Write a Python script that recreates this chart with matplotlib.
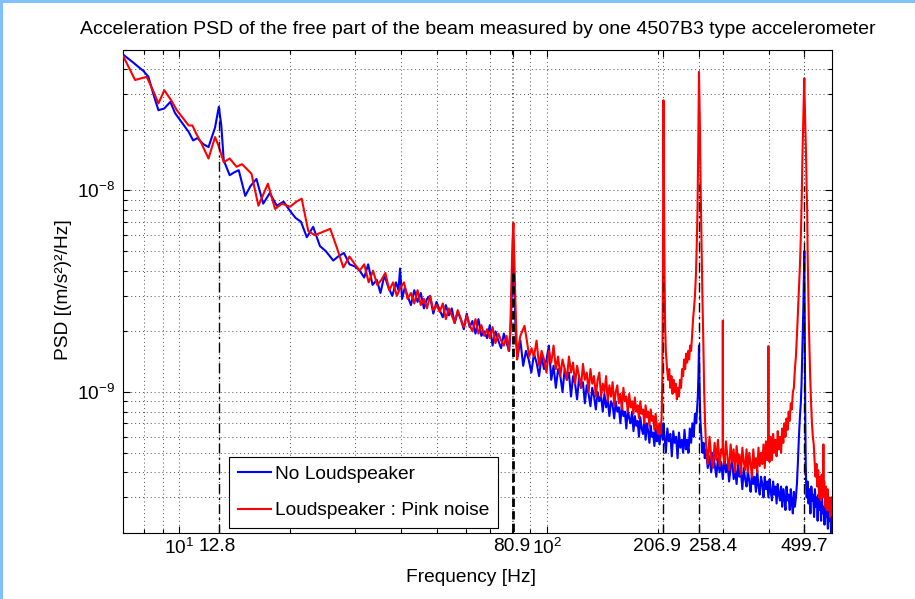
import numpy as np
import matplotlib
matplotlib.use("Agg")
import matplotlib.pyplot as plt
from matplotlib.ticker import FixedLocator, LogLocator, NullFormatter, FixedFormatter
from matplotlib.patches import Rectangle
from matplotlib.transforms import blended_transform_factory, ScaledTranslation

plt.rcParams['font.family'] = ['Liberation Sans', 'DejaVu Sans']
plt.rcParams['mathtext.fontset'] = 'custom'
plt.rcParams['mathtext.rm'] = 'Liberation Sans'
plt.rcParams['mathtext.it'] = 'Liberation Sans:italic'
plt.rcParams['mathtext.bf'] = 'Liberation Sans:bold'

UNIT = 1e-9  # PSD values below are in 1e-9 (m/s^2)^2/Hz

# ---------------- No Loudspeaker (blue) ----------------
f_blue_low = [7.05, 7.5, 8.0, 8.24, 8.5, 8.77, 9.1, 9.45, 9.73, 10.2,
              10.6, 10.9, 11.2, 11.6, 12.0, 12.5, 12.8, 13.0, 13.2, 13.7,
              14.1, 14.5, 15.1, 15.6, 16.2, 16.9, 17.6, 18.4, 19.2, 20.0,
              20.7, 21.4, 22.2, 23.1, 24.1, 25.0, 26.2, 27.0, 28.0, 29.0,
              30.0, 30.9]
p_blue_low = [47, 43, 39, 36.6, 30, 25, 25.5, 27.5, 24.2, 21.5,
              19.5, 17.7, 18.2, 17.0, 16.4, 20.5, 26.0, 21, 14.1, 11.9,
              12.3, 12.6, 9.4, 10.5, 11.4, 8.6, 9.7, 8.4, 8.8, 7.9,
              7.3, 7.0, 5.86, 6.6, 5.3, 5.0, 4.49, 4.7, 4.9, 4.3,
              4.2, 4.0]

f_blue_mid = [31.8, 32.6, 33.5, 34.4, 35.2, 36.1, 37.0, 37.9, 38.8, 39.4,
              39.8, 40.3, 41.0, 41.7, 42.6, 43.5, 44.4, 45.3, 46.2, 47.1,
              48.0, 49.0, 50.0, 51.0, 52.0, 53.0, 54.0, 55.0, 56.0, 57.1,
              58.2, 59.3, 60.4, 61.5, 62.6, 63.8, 65.0, 66.2, 67.4, 68.6,
              69.8, 71.0, 72.3, 73.6, 74.9, 76.2, 77.5, 78.8, 79.6, 80.3,
              80.9, 81.5, 82.2]
p_blue_mid = [3.7, 4.3, 3.4, 3.6, 3.1, 3.8, 3.3, 3.0, 3.5, 3.2,
              4.1, 2.9, 3.3, 3.0, 2.7, 3.2, 2.8, 3.1, 2.6, 2.9,
              3.0, 2.45, 2.8, 2.55, 2.35, 2.7, 2.4, 2.6, 2.2, 2.5,
              2.3, 2.05, 2.45, 2.1, 2.25, 1.95, 2.3, 1.9, 2.0, 1.85,
              2.15, 1.7, 2.0, 1.8, 1.65, 1.95, 1.75, 1.6, 2.2, 3.6,
              5.2, 3.0, 1.8]

f_blue_100 = [83.0, 84.5, 86.0, 87.5, 89.0, 90.5, 92.0, 93.5, 95.0, 96.5,
              98.0, 99.5, 101.0, 102.5, 104.0, 105.5, 107.0, 108.5, 110.0, 111.5,
              113.0, 114.5, 116.0, 117.5, 119.0, 120.5, 122.0, 123.5, 125.0, 126.5,
              128.0, 129.5, 131.0, 132.5, 134.0, 135.5, 137.0, 138.5, 140.0, 141.5,
              143.0, 144.5, 146.0, 147.5, 149.0, 150.5, 152.0, 153.5, 155.0, 156.5,
              158.0, 159.5, 161.0, 162.5, 164.0, 165.5, 167.0, 168.5, 170.0, 171.5,
              173.0, 174.5, 176.0, 177.5, 179.0, 180.5, 182.0, 183.5, 185.0, 186.5,
              188.0, 189.5, 191.0, 192.5, 194.0, 195.5, 197.0, 198.5, 200.0]
p_blue_100 = [1.5, 1.8, 1.35, 1.6, 1.45, 1.25, 1.55, 1.4, 1.2, 1.5,
              1.3, 1.45, 1.7, 1.15, 1.35, 1.05, 1.3, 1.2, 1.0, 1.3,
              1.15, 1.25, 0.95, 1.2, 1.1, 0.92, 1.18, 1.05, 1.12, 0.88,
              1.08, 0.98, 0.85, 1.05, 0.95, 0.82, 1.0, 0.9, 0.96, 0.8,
              0.98, 0.84, 0.92, 0.76, 0.9, 0.86, 0.74, 0.9, 0.8, 0.84,
              0.7, 0.86, 0.76, 0.8, 0.66, 0.82, 0.74, 0.7, 0.8, 0.64,
              0.76, 0.68, 0.72, 0.6, 0.75, 0.66, 0.62, 0.72, 0.58, 0.7,
              0.64, 0.56, 0.68, 0.6, 0.63, 0.54, 0.66, 0.57, 0.62]

f_blue_200 = [202, 204, 206, 206.9, 208, 210, 212, 214, 216, 218,
              220, 222, 224, 226, 228, 230, 232, 234, 236, 238,
              240, 242, 244, 246, 248, 250, 252, 254, 255.5, 256.5,
              257.5, 258.4, 259.3, 260.5, 262, 264, 266, 268]
p_blue_200 = [0.55, 0.68, 0.58, 0.7, 0.62, 0.5, 0.66, 0.57, 0.62, 0.48,
              0.64, 0.56, 0.6, 0.47, 0.63, 0.53, 0.58, 0.5, 0.65, 0.52,
              0.58, 0.5, 0.66, 0.56, 0.7, 0.6, 0.78, 0.7, 0.85, 0.95,
              1.2, 1.7, 1.1, 0.75, 0.62, 0.5, 0.56, 0.47]

f_blue_300 = [270, 273, 276, 279, 282, 285, 288, 291, 294, 297,
              300, 303, 306, 309, 312, 315, 318, 321, 324, 327,
              330, 333, 336, 339, 342, 345, 348, 351, 354, 357,
              360, 363, 366, 369, 372, 375, 378, 381, 384, 387,
              390, 393, 396, 399, 402, 405, 408, 411, 414, 417,
              420, 423, 426, 429, 432, 435, 438, 441, 444, 447,
              450, 453, 456, 459, 462, 465, 468, 471, 474, 477,
              480, 483, 486, 489]
p_blue_300 = [0.52, 0.42, 0.48, 0.4, 0.5, 0.44, 0.38, 0.47, 0.4, 0.45,
              0.37, 0.48, 0.4, 0.44, 0.36, 0.42, 0.46, 0.37, 0.41, 0.35,
              0.44, 0.38, 0.4, 0.33, 0.42, 0.37, 0.34, 0.41, 0.36, 0.32,
              0.4, 0.35, 0.38, 0.32, 0.41, 0.34, 0.31, 0.38, 0.35, 0.3,
              0.38, 0.33, 0.36, 0.3, 0.37, 0.32, 0.29, 0.36, 0.31, 0.34,
              0.28, 0.35, 0.31, 0.29, 0.34, 0.27, 0.33, 0.3, 0.26, 0.34,
              0.29, 0.31, 0.26, 0.33, 0.28, 0.25, 0.32, 0.27, 0.3, 0.35,
              0.45, 0.6, 0.75, 0.9]

f_blue_500 = [491, 493, 495, 496.5, 497.5, 498.5, 499.7, 500.6, 501.5, 502.5,
              504, 505.5, 507, 510, 513, 516, 519, 522, 525, 528,
              531, 534, 537, 540, 543, 546, 549, 552, 555, 558,
              561, 564, 567, 570, 573, 576, 579, 582, 585, 588,
              591, 594]
p_blue_500 = [1.1, 1.5, 2.0, 2.6, 3.2, 4.0, 5.0, 3.0, 1.5, 0.8,
              0.45, 0.34, 0.3, 0.36, 0.28, 0.33, 0.25, 0.34, 0.29, 0.31,
              0.24, 0.33, 0.27, 0.3, 0.23, 0.31, 0.26, 0.29, 0.23, 0.3,
              0.25, 0.27, 0.22, 0.29, 0.24, 0.26, 0.21, 0.27, 0.23, 0.25,
              0.2, 0.24]

# ---------------- Loudspeaker : Pink noise (red) ----------------
f_red_low = [7.05, 7.58, 8.15, 8.5, 8.77, 9.1, 9.5, 9.84, 10.2, 10.6,
             10.85, 11.1, 11.5, 12.0, 12.5, 12.8, 13.2, 13.7, 14.3, 14.8,
             15.7, 16.4, 17.4, 18.2, 19.0, 20.0, 20.8, 21.5, 22.4, 23.3,
             24.4, 25.7, 26.8, 27.9, 29.0, 30.0, 30.9]
p_red_low = [46, 35.3, 36.6, 31, 27, 31.4, 28, 25, 23, 21,
             21, 19.2, 17, 14.4, 18.4, 16.5, 13.8, 14.4, 13.1, 13.5,
             12.1, 8.4, 10.8, 8.1, 8.6, 8.3, 8.8, 9.1, 6.3, 6.0,
             6.2, 6.45, 5.2, 4.15, 4.7, 4.3, 4.0]

f_red_mid = [31.8, 32.7, 33.6, 34.5, 35.4, 36.3, 37.2, 38.1, 39.0, 39.9,
             40.8, 41.7, 42.6, 43.5, 44.4, 45.3, 46.2, 47.1, 48.0, 49.0,
             50.0, 51.0, 52.0, 53.0, 54.0, 55.0, 56.0, 57.1, 58.2, 59.3,
             60.4, 61.5, 62.6, 63.8, 65.0, 66.2, 67.4, 68.6, 69.8, 71.0,
             72.3, 73.6, 74.9, 76.2, 77.5, 78.5, 79.3, 79.9, 80.4, 80.9,
             81.4, 82.0, 82.8, 83.6, 84.5, 85.5, 86.7, 88.0, 89.3, 90.6]
p_red_mid = [4.3, 3.5, 4.0, 3.4, 3.6, 3.9, 3.2, 3.5, 3.0, 3.3,
             3.5, 2.9, 3.1, 2.75, 3.2, 2.7, 2.9, 2.6, 3.0, 2.55,
             2.7, 2.5, 2.75, 2.3, 2.6, 2.4, 2.2, 2.55, 2.3, 2.1,
             2.4, 2.15, 2.0, 2.3, 1.95, 2.15, 1.9, 2.05, 1.85, 2.1,
             1.75, 1.95, 1.8, 1.7, 1.9, 1.6, 2.0, 3.5, 5.5, 6.9,
             4.5, 2.6, 1.45, 1.7, 1.9, 2.0, 2.13, 1.8, 1.5, 1.65]

f_red_100 = [92.0, 93.5, 95.0, 96.5, 98.0, 99.5, 101.0, 102.5, 104.0, 105.5,
             107.0, 108.5, 110.0, 111.5, 113.0, 114.5, 116.0, 117.5, 119.0, 120.5,
             122.0, 123.5, 125.0, 126.5, 128.0, 129.5, 131.0, 132.5, 134.0, 135.5,
             137.0, 138.5, 140.0, 141.5, 143.0, 144.5, 146.0, 147.5, 149.0, 150.5,
             152.0, 153.5, 155.0, 156.5, 158.0, 159.5, 161.0, 162.5, 164.0, 165.5,
             167.0, 168.5, 170.0, 171.5, 173.0, 174.5, 176.0, 177.5, 179.0, 180.5,
             182.0, 183.5, 185.0, 186.5, 188.0, 189.5, 191.0, 192.5, 194.0, 195.5,
             197.0, 198.5, 200.0]
p_red_100 = [1.5, 1.8, 1.35, 1.6, 1.45, 1.25, 1.6, 1.4, 1.7, 1.3,
             1.5, 1.2, 1.45, 1.3, 1.15, 1.5, 1.25, 1.4, 1.1, 1.35,
             1.2, 1.05, 1.38, 1.15, 1.25, 1.0, 1.3, 1.1, 1.2, 0.95,
             1.15, 1.25, 0.95, 1.1, 1.0, 1.2, 0.9, 1.08, 0.95, 1.12,
             0.86, 1.0, 1.08, 0.88, 0.98, 0.82, 1.05, 0.9, 0.95, 0.8,
             0.98, 0.84, 0.9, 0.78, 0.94, 0.8, 0.86, 0.74, 0.9, 0.78,
             0.82, 0.7, 0.86, 0.75, 0.8, 0.68, 0.82, 0.72, 0.76, 0.65,
             0.78, 0.68, 0.62]

f_red_200 = [201.5, 203, 204.5, 205.5, 206.2, 206.9, 207.5, 208.3, 209, 210,
             211.5, 213, 214.5, 216, 217.5, 219, 220.5, 222, 223.5, 225,
             226.5, 228, 229.5, 231, 232.5, 234, 235.5, 237, 238.5, 240,
             241.5, 243, 244.5, 246, 247.5, 249, 250.5, 252, 253.5, 255,
             256, 257, 257.8, 258.4, 259, 260, 261, 262.5, 264, 265.5,
             267, 268.5]
p_red_200 = [0.7, 0.62, 0.75, 1.2, 4.0, 28, 12, 3.87, 2.2, 1.6,
             1.32, 1.15, 1.3, 1.05, 1.2, 0.98, 1.15, 1.0, 1.1, 0.92,
             1.05, 0.95, 1.15, 1.05, 1.3, 1.2, 1.45, 1.3, 1.55, 1.4,
             1.6, 1.45, 1.7, 1.6, 1.9, 2.3, 2.6, 3.0, 3.8, 5.6,
             8.0, 14, 25, 38.7, 30, 20, 11, 5.5, 3.0, 1.8,
             1.0, 0.7]

f_red_300 = [270, 273, 276, 279, 282, 285, 288, 291, 294, 297,
             299.6, 300.0, 300.4, 303, 306, 309, 312, 315, 318, 321,
             324, 327, 330, 333, 336, 339, 342, 345, 348, 351,
             354, 357, 360, 363, 366, 369, 372, 375, 378, 381,
             384, 387, 390, 393, 396, 398.6, 399.0, 399.4, 402, 405,
             408, 411, 414, 417, 420, 423, 426, 429, 432, 435,
             438, 441, 444, 447, 450, 453, 456, 459, 462, 465,
             468, 471, 474, 477, 480, 483, 486, 489]
p_red_300 = [0.55, 0.44, 0.6, 0.48, 0.42, 0.56, 0.46, 0.58, 0.43, 0.52,
             0.5, 2.26, 0.5, 0.44, 0.57, 0.47, 0.41, 0.55, 0.45, 0.52,
             0.4, 0.54, 0.44, 0.49, 0.39, 0.53, 0.45, 0.41, 0.52, 0.4,
             0.5, 0.44, 0.38, 0.52, 0.42, 0.47, 0.4, 0.53, 0.43, 0.5,
             0.44, 0.55, 0.42, 0.57, 0.46, 0.5, 1.69, 0.5, 0.45, 0.6,
             0.46, 0.62, 0.5, 0.58, 0.48, 0.64, 0.52, 0.6, 0.5, 0.66,
             0.56, 0.7, 0.6, 0.74, 0.65, 0.8, 0.72, 0.88, 0.82, 1.0,
             1.05, 1.3, 1.5, 1.9, 2.5, 3.2, 4.2, 6.0]

f_red_500 = [491.5, 493.5, 495, 496.5, 497.5, 498.5, 499.2, 499.7, 500.4, 501.5,
             503, 505, 507, 508.5, 510, 512, 514, 516, 518, 521,
             524, 527, 530, 533, 536, 539, 542, 545, 548, 551,
             554, 557, 560, 562.6, 563, 563.4, 566, 569, 572, 575,
             578, 581, 584, 587, 590, 593]
p_red_500 = [9, 14, 18, 24, 28, 32, 35, 36, 30, 25,
             20, 15, 10, 8.2, 5.0, 3.2, 2.2, 1.6, 1.23, 0.9,
             0.7, 0.6, 0.55, 0.45, 0.38, 0.44, 0.34, 0.41, 0.3, 0.38,
             0.29, 0.39, 0.3, 0.36, 0.55, 0.32, 0.36, 0.27, 0.34, 0.26,
             0.33, 0.26, 0.3, 0.24, 0.25, 0.3]

# ---------------- marked resonance frequencies ----------------
mark_freqs = [12.8, 80.9, 206.9, 258.4, 499.7]
mark_tops = [26.0, 4.1, 3.9, 10.8, 10.5]
x_tick_values = [10, 12.8, 80.9, 100, 206.9, 258.4, 499.7]
x_tick_labels = ['$10^{1}$', '12.8', '80.9', '$10^{2}$', '206.9', '258.4', '499.7']
x_label_shift_px = [0, -2, -2, 0, -7, 14, 0]
y_tick_values = [1e-9, 1e-8]
y_tick_labels = ['$10^{-9}$', '$10^{-8}$']

freq_no_ls = np.array(f_blue_low + f_blue_mid + f_blue_100 + f_blue_200 + f_blue_300 + f_blue_500)
psd_no_ls = np.array(p_blue_low + p_blue_mid + p_blue_100 + p_blue_200 + p_blue_300 + p_blue_500) * UNIT
freq_pink = np.array(f_red_low + f_red_mid + f_red_100 + f_red_200 + f_red_300 + f_red_500)
psd_pink = np.array(p_red_low + p_red_mid + p_red_100 + p_red_200 + p_red_300 + p_red_500) * UNIT

FS = 13.8
W, H = 915, 599
fig = plt.figure(figsize=(W / 100, H / 100), dpi=100)
fig.patches.append(Rectangle((0, 1 - 3.3 / H), 1, 3.3 / H, transform=fig.transFigure,
                             facecolor='#80C0FF', edgecolor='none', zorder=0))
fig.patches.append(Rectangle((0, 0), 3.3 / W, 1, transform=fig.transFigure,
                             facecolor='#80C0FF', edgecolor='none', zorder=0))

x0, x1, y0, y1 = 123.3, 831.7, 49.5, 533.0
ax = fig.add_axes([x0 / W, 1 - y1 / H, (x1 - x0) / W, (y1 - y0) / H])
ax.set_xscale('log')
ax.set_yscale('log')

ax.plot(freq_no_ls, psd_no_ls, color='#0000FF', lw=1.5, label='No Loudspeaker', zorder=3)
ax.plot(freq_pink, psd_pink, color='#FF0000', lw=1.5, label='Loudspeaker : Pink noise', zorder=4)

for f, top in zip(mark_freqs, mark_tops):
    if f == 80.9:
        ax.vlines(f, 1e-10, top * UNIT, colors='black', lw=2.0, linestyles=(0, (3, 1.5)), zorder=5)
    else:
        ax.vlines(f, 1e-10, top * UNIT, colors='black', lw=1.0, linestyles=(0, (7, 3, 1.5, 3)), zorder=5)

ax.set_xlim(7.04, 593)
ax.set_ylim(2e-10, 5e-8)

ax.xaxis.set_major_locator(FixedLocator(x_tick_values))
ax.xaxis.set_major_formatter(NullFormatter())
ax.xaxis.set_minor_locator(LogLocator(base=10, subs=np.arange(2, 10), numticks=20))
ax.xaxis.set_minor_formatter(NullFormatter())
ax.yaxis.set_major_locator(FixedLocator(y_tick_values))
ax.yaxis.set_major_formatter(FixedFormatter(y_tick_labels))
ax.yaxis.set_minor_locator(LogLocator(base=10, subs=np.arange(2, 10), numticks=20))
ax.yaxis.set_minor_formatter(NullFormatter())

ax.grid(True, which='both', linestyle=(0, (1, 3)), color='#505050', lw=0.7)
ax.tick_params(which='both', direction='in', top=True, right=True, labelsize=FS, width=0.8)
ax.tick_params(which='major', length=5)
ax.tick_params(which='minor', length=3)
ax.tick_params(axis='y', pad=6)
for s in ax.spines.values():
    s.set_linewidth(0.8)

# x tick labels (placed as text so close labels can be nudged apart like the original)
blend = blended_transform_factory(ax.transData, ax.transAxes)
for xv, lab, dx in zip(x_tick_values, x_tick_labels, x_label_shift_px):
    tr = blend + ScaledTranslation(dx / 100, -5 / 100, fig.dpi_scale_trans)
    ax.text(xv, 0, lab, transform=tr, ha='center', va='top', fontsize=FS)

ax.set_title('Acceleration PSD of the free part of the beam measured by one 4507B3 type accelerometer',
             fontsize=14, pad=11)
fig.text(471 / W, 1 - 577 / H, 'Frequency [Hz]', fontsize=FS, ha='center', va='center')
fig.text(63 / W, 1 - 290 / H, 'PSD [(m/s²)²/Hz]', fontsize=FS, ha='center', va='center', rotation=90)

leg = ax.legend(loc='lower left', bbox_to_anchor=(0.1496, 0.0103), borderaxespad=0,
                frameon=True, fancybox=False, edgecolor='black', framealpha=1,
                handlelength=1.75, handletextpad=0.2, labelspacing=1.0, borderpad=0.45,
                fontsize=FS)
leg.get_frame().set_linewidth(0.8)
leg.set_zorder(10)

fig.savefig('out.png', dpi=100)
